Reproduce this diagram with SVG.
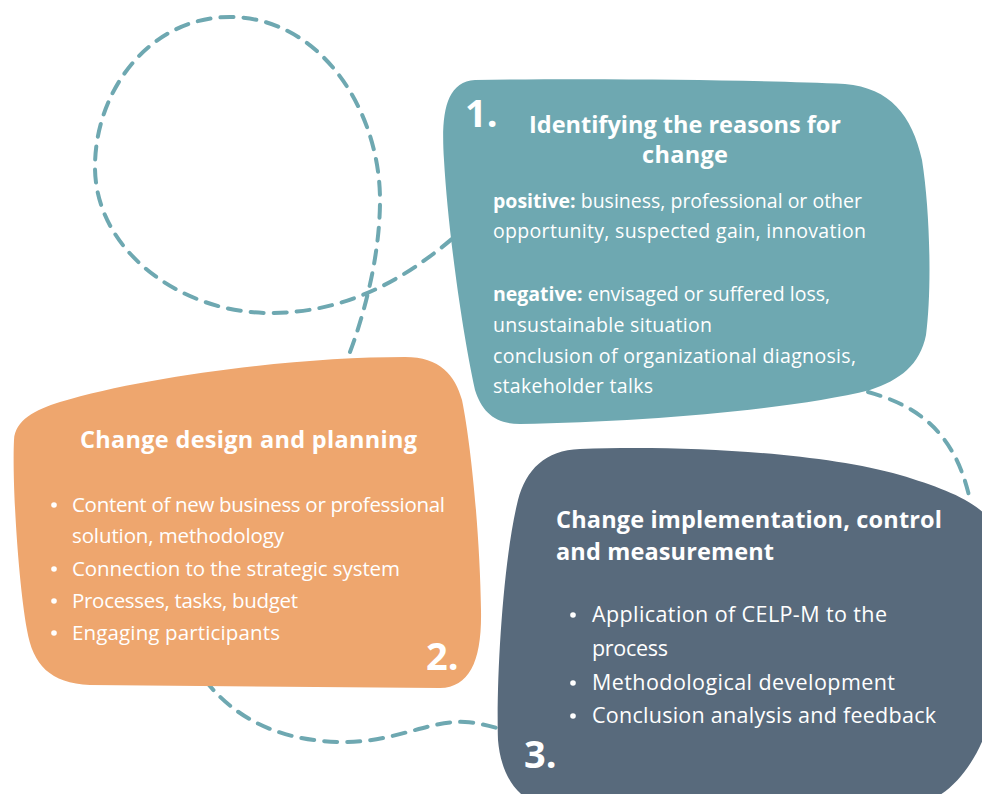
<svg xmlns="http://www.w3.org/2000/svg" width="982" height="794" viewBox="0 0 982 794">
  <style>
    .link { fill: none; stroke: #6ea8b1; stroke-width: 4; stroke-dasharray: 13 10; stroke-linecap: round; }
    text { font-family: "Open Sans", "Noto Sans", "DejaVu Sans", sans-serif; fill: #ffffff; }
    .num { font-size: 38px; font-weight: 700; }
    .title { font-size: 23.5px; font-weight: 700; }
    .body { font-weight: 400; }
    .b { font-weight: 700; }
    .dot { fill: #ffffff; }
  </style>

  <rect width="982" height="794" fill="#ffffff"/>

  <!-- dashed connectors, drawn beneath the blobs -->
  <g id="connectors">
    <path class="link" d="M350,352 C362,320 380,260 380,200 C380,110 320,17 230,17 C150,17 95,90 95,167 C95,250 180,313 270,313 C340,313 400,285 460,232"/>
    <path class="link" d="M868,392 C915,405 955,430 970,500"/>
    <path class="link" d="M205,680 C240,725 290,742 345,742 C395,742 430,720 465,722 C480,723 490,726 500,729"/>
  </g>

  <!-- step 1 -->
  <g id="step1">
    <path fill="#6ea8b1" d="M475,80 C600,78 760,80 845,84 C890,88 912,115 922,160 C930,210 932,290 926,335 C920,365 900,380 870,390 C790,410 640,422 520,424 C495,424 482,412 475,390 C462,330 448,230 444,160 C441,115 445,82 475,80 Z"/>
    <text class="num" x="465" y="127">1.</text>
    <text class="title" x="529" y="133" textLength="312">Identifying the reasons for</text>
    <text class="title" x="642" y="163" textLength="86">change</text>
    <g class="body" font-size="19.5">
      <text x="493" y="208" textLength="369"><tspan class="b">positive:</tspan> business, professional or other</text>
      <text x="493" y="238" textLength="373">opportunity, suspected gain, innovation</text>
      <text x="493" y="301" textLength="337"><tspan class="b">negative:</tspan> envisaged or suffered loss,</text>
      <text x="493" y="332" textLength="219">unsustainable situation</text>
      <text x="493" y="363" textLength="363">conclusion of organizational diagnosis,</text>
      <text x="493" y="393" textLength="160">stakeholder talks</text>
    </g>
  </g>

  <!-- step 2 -->
  <g id="step2">
    <path fill="#eea66e" d="M60,402 C150,375 300,357 405,357 C440,357 455,375 462,400 C472,450 480,540 481,610 C482,660 470,687 440,688 L90,685 C50,683 33,665 27,630 C18,580 12,480 14,440 C15,420 35,410 60,402 Z"/>
    <text class="title" x="80" y="448" textLength="337">Change design and planning</text>
    <g class="body" font-size="20.5">
      <circle class="dot" cx="54" cy="505" r="2.8"/>
      <text x="72" y="512" textLength="373">Content of new business or professional</text>
      <text x="72" y="543" textLength="212">solution, methodology</text>
      <circle class="dot" cx="54" cy="569" r="2.8"/>
      <text x="72" y="576" textLength="328">Connection to the strategic system</text>
      <circle class="dot" cx="54" cy="601" r="2.8"/>
      <text x="72" y="608" textLength="226">Processes, tasks, budget</text>
      <circle class="dot" cx="54" cy="633" r="2.8"/>
      <text x="72" y="640" textLength="208">Engaging participants</text>
    </g>
    <text class="num" x="426" y="670">2.</text>
  </g>

  <!-- step 3 -->
  <g id="step3">
    <path fill="#586a7c" d="M580,449 C680,445 820,452 900,475 C940,487 975,500 990,520 L990,720 C978,760 955,790 930,800 L530,800 C510,790 500,765 498,740 C496,680 503,560 518,500 C526,470 545,450 580,449 Z"/>
    <text class="title" x="556" y="528" textLength="386">Change implementation, control</text>
    <text class="title" x="556" y="560" textLength="218">and measurement</text>
    <g class="body" font-size="21.5">
      <circle class="dot" cx="573" cy="615" r="2.8"/>
      <text x="592" y="622" textLength="295">Application of CELP-M to the</text>
      <text x="592" y="656" textLength="76">process</text>
      <circle class="dot" cx="573" cy="683" r="2.8"/>
      <text x="592" y="690" textLength="303">Methodological development</text>
      <circle class="dot" cx="573" cy="716" r="2.8"/>
      <text x="592" y="723" textLength="344">Conclusion analysis and feedback</text>
    </g>
    <text class="num" x="524" y="768">3.</text>
  </g>
</svg>
